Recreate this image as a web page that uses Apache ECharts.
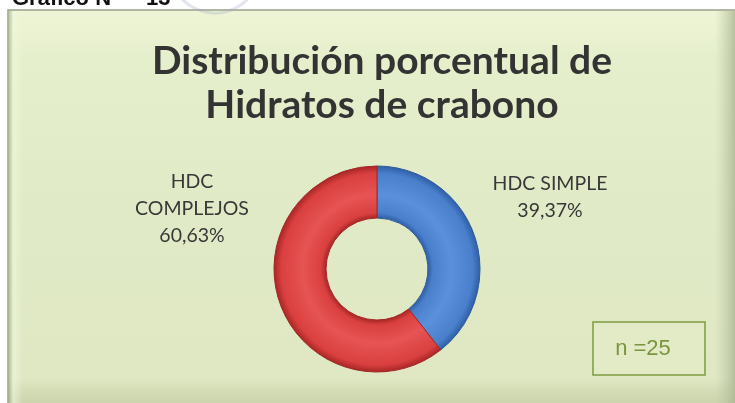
<!DOCTYPE html>
<html>
<head>
<meta charset="utf-8">
<script src="https://cdn.jsdelivr.net/npm/echarts@6/dist/echarts.min.js"></script>
<style>
  html, body { margin: 0; padding: 0; background: #ffffff; }
  #chart { width: 735px; height: 403px; }
</style>
</head>
<body>
<div id="chart"></div>
<script>
// Carbohydrate split (percent of total)
const categories = ['HDC SIMPLE', 'HDC COMPLEJOS'];
const labelTexts = ['HDC SIMPLE\n39,37%', 'HDC\nCOMPLEJOS\n60,63%'];
const values = [39.37, 60.63];
const sampleNote = 'n =25';

const chart = echarts.init(document.getElementById('chart'), null, { renderer: 'canvas' });

const cx = 377, cy = 269, rOuter = 103, rInner = 51;

function ringGradient(base, light, dark) {
  return new echarts.graphic.RadialGradient(cx, cy, rOuter, [
    { offset: 0.0, color: dark },
    { offset: rInner / rOuter, color: dark },
    { offset: rInner / rOuter + 0.05, color: base },
    { offset: 0.72, color: light },
    { offset: 0.93, color: base },
    { offset: 1.0, color: dark }
  ], true);
}

const sliceColors = [
  ringGradient('#4a7fcc', '#5b90dc', '#2f5fa6'),
  ringGradient('#d9403f', '#e65453', '#a82726')
];

const labelSpots = [
  { x: 550, y: 197 },
  { x: 192, y: 209 }
];

chart.setOption({
  animation: false,
  graphic: [
    // chart panel
    {
      type: 'rect', z: -10,
      shape: { x: 8, y: 10, width: 740, height: 400 },
      style: {
        fill: new echarts.graphic.LinearGradient(0, 0, 0, 1, [
          { offset: 0, color: '#eef5d6' },
          { offset: 0.12, color: '#e6efcc' },
          { offset: 0.5, color: '#e1eac6' },
          { offset: 0.92, color: '#dfe8c3' },
          { offset: 0.95, color: '#d3dcb5' },
          { offset: 1, color: '#c6cfa8' }
        ]),
        stroke: '#9aa08a', lineWidth: 1.5
      }
    },
    // soft bevel on the left and right sides
    {
      type: 'rect', z: -9,
      shape: { x: 9, y: 11, width: 14, height: 392 },
      style: {
        fill: new echarts.graphic.LinearGradient(0, 0, 1, 0, [
          { offset: 0, color: 'rgba(150,160,130,0.55)' },
          { offset: 0.3, color: 'rgba(240,248,220,0.6)' },
          { offset: 1, color: 'rgba(240,248,220,0)' }
        ])
      }
    },
    {
      type: 'rect', z: -9,
      shape: { x: 715, y: 11, width: 20, height: 392 },
      style: {
        fill: new echarts.graphic.LinearGradient(0, 0, 1, 0, [
          { offset: 0, color: 'rgba(190,200,165,0)' },
          { offset: 1, color: 'rgba(170,180,145,0.8)' }
        ])
      }
    },
    // caption above the panel, mostly cut off by the page top
    {
      type: 'text', z: 5,
      style: {
        text: 'Gráfico N°', x: 12, y: 10,
        font: 'bold 22px "Liberation Sans", Arial, sans-serif',
        fill: '#111111', textVerticalAlign: 'bottom'
      }
    },
    {
      type: 'text', z: 5,
      style: {
        text: '13', x: 146, y: 10,
        font: 'bold 22px "Liberation Sans", Arial, sans-serif',
        fill: '#111111', textVerticalAlign: 'bottom'
      }
    },
    {
      type: 'arc', z: 4,
      shape: { cx: 215, cy: -32, r: 45, startAngle: 0.35, endAngle: 2.8 },
      style: { stroke: 'rgba(160,170,195,0.3)', lineWidth: 3, fill: null }
    },
    // sample size box
    {
      type: 'rect', z: 5,
      shape: { x: 593, y: 322, width: 112, height: 53 },
      style: { fill: '#e2ebc6', stroke: '#7d9a3f', lineWidth: 1.5 }
    },
    {
      type: 'text', z: 6,
      style: {
        text: sampleNote, x: 643, y: 349,
        font: '22px "Liberation Sans", Arial, sans-serif',
        fill: '#7a953d', textAlign: 'center', textVerticalAlign: 'middle'
      }
    }
  ],
  title: {
    text: 'Distribución porcentual de\nHidratos de crabono',
    left: 377,
    textAlign: 'center',
    top: 34,
    textStyle: {
      fontFamily: 'Lato, "Open Sans", sans-serif',
      fontWeight: 'bold',
      fontSize: 39,
      lineHeight: 44,
      color: '#333333'
    }
  },
  series: [{
    type: 'pie',
    center: [cx, cy],
    radius: [rInner, rOuter],
    startAngle: 90,
    clockwise: true,
    avoidLabelOverlap: false,
    itemStyle: {
      borderWidth: 1
    },
    label: {
      show: true,
      position: 'outside',
      formatter: (p) => labelTexts[p.dataIndex],
      fontFamily: 'Lato, "Open Sans", sans-serif',
      fontSize: 19.5,
      lineHeight: 27,
      color: '#383838',
      align: 'center'
    },
    labelLine: { show: false },
    labelLayout: (params) => ({
      x: labelSpots[params.dataIndex].x,
      y: labelSpots[params.dataIndex].y,
      align: 'center',
      verticalAlign: 'middle'
    }),
    data: categories.map((name, i) => ({
      name: name,
      value: values[i],
      itemStyle: {
        color: sliceColors[i],
        borderColor: i === 0 ? '#2c5a9c' : '#a32828'
      }
    }))
  }]
});
</script>
</body>
</html>
